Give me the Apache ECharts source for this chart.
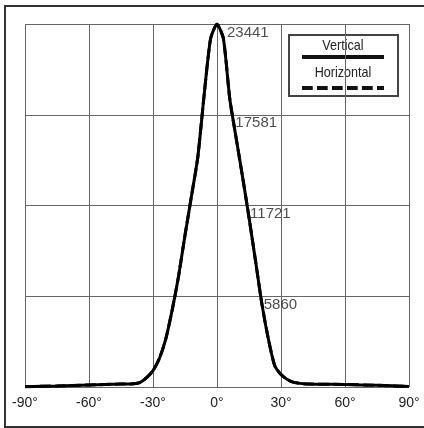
<!DOCTYPE html>
<html>
<head>
<meta charset="utf-8">
<script src="https://cdn.jsdelivr.net/npm/echarts@6/dist/echarts.min.js"></script>
<style>
  html, body { margin: 0; padding: 0; background: #fff; }
  #chart { width: 424px; height: 428px; }
</style>
</head>
<body>
<div id="chart"></div>
<script>
// Beam profile: intensity versus angle
const angles = [-90, -75, -60, -45, -39, -36, -33, -30, -27, -24, -21, -18, -15, -12, -9, -6, -3, 0,
                3, 6, 9, 12, 15, 18, 21, 24, 27, 30, 33, 36, 42, 60, 75, 90];
const verticalValues = [20, 70, 130, 190, 210, 300, 600, 1060, 1840, 3110, 4980, 7170, 9800, 12300, 14840, 18900, 22500, 23441,
                        22500, 18600, 16050, 13550, 10950, 8200, 5400, 3150, 1400, 800, 480, 300, 200, 160, 110, 30];
const horizontalValues = [20, 70, 130, 190, 210, 300, 600, 1060, 1840, 3110, 4980, 7170, 9800, 12300, 14840, 18900, 22500, 23441,
                          22500, 18600, 16050, 13550, 10950, 8200, 5400, 3150, 1400, 800, 480, 300, 200, 160, 110, 30];
const xTicks = [-90, -60, -30, 0, 30, 60, 90];
const peakValue = 23441;
const levelCount = 4;
const seriesNames = ['Vertical', 'Horizontal'];

const FONT = '"Liberation Sans", Arial, sans-serif';
const yInterval = peakValue / levelCount;

// Levels along the y axis that get a value tag on the right flank of the curve
const levels = [];
for (let i = 1; i <= levelCount; i++) levels.push(yInterval * i);

// Angle where the right flank of the curve crosses a given level
function rightCrossing(level) {
  const start = angles.indexOf(0);
  for (let i = start; i < angles.length - 1; i++) {
    const a = verticalValues[i], b = verticalValues[i + 1];
    if (a >= level && b <= level) {
      if (a === b) return angles[i];
      return angles[i] + (a - level) / (a - b) * (angles[i + 1] - angles[i]);
    }
  }
  return 0;
}

const tagData = levels.map(function (lv) {
  return {
    value: [rightCrossing(lv), lv],
    label: { offset: [lv >= peakValue ? 10 : 3, 1] }
  };
});

const chart = echarts.init(document.getElementById('chart'), null, { renderer: 'canvas' });

const toPairs = (vals) => angles.map((a, i) => [a, vals[i]]);

// condensed-looking legend text
function legendText(label, y) {
  return {
    type: 'text',
    x: 343, y: y,
    scaleX: 0.84,
    style: { x: 0, y: 0, text: label, align: 'center', verticalAlign: 'middle',
             fill: '#222', font: '15px ' + FONT }
  };
}

chart.setOption({
  animation: false,
  backgroundColor: '#fff',
  grid: { left: 25, right: 15, top: 24, bottom: 41, containLabel: false },
  xAxis: {
    type: 'value',
    min: -90, max: 90, interval: 30,
    axisLine: { show: false },
    axisTick: { show: false },
    splitLine: { show: true, lineStyle: { color: '#666', width: 1 } },
    axisLabel: {
      margin: 9,
      color: '#222',
      fontFamily: FONT,
      fontSize: 14,
      formatter: function (v) { return xTicks.indexOf(v) >= 0 ? v + '\u00b0' : ''; }
    }
  },
  yAxis: {
    type: 'value',
    min: 0, max: peakValue, interval: yInterval,
    axisLine: { show: false },
    axisTick: { show: false },
    axisLabel: { show: false },
    splitLine: { show: true, lineStyle: { color: '#666', width: 1 } }
  },
  series: [
    {
      name: seriesNames[1],
      type: 'line',
      data: toPairs(horizontalValues),
      symbol: 'none',
      smooth: 0.2,
      z: 3,
      lineStyle: { color: '#000', width: 3, type: [10.7, 4.3] }
    },
    {
      name: seriesNames[0],
      type: 'line',
      data: toPairs(verticalValues),
      symbol: 'none',
      smooth: 0.2,
      z: 4,
      lineStyle: { color: '#000', width: 3 }
    },
    {
      type: 'scatter',
      data: tagData,
      symbolSize: 0,
      z: 5,
      label: {
        show: true,
        position: 'inside',
        align: 'left',
        verticalAlign: 'top',
        color: '#222',
        fontFamily: FONT,
        fontSize: 15,
        formatter: function (p) { return String(Math.round(p.value[1])); }
      }
    }
  ],
  graphic: [
    // outer frame
    {
      type: 'rect', z: 100, silent: true,
      shape: { x: 5, y: 6, width: 440, height: 421 },
      style: { fill: null, stroke: '#333', lineWidth: 2 }
    },
    // legend box
    {
      type: 'group', z: 100, silent: true,
      children: [
        {
          type: 'rect',
          shape: { x: 289, y: 35, width: 109, height: 61 },
          style: { fill: '#fff', stroke: '#444', lineWidth: 2 }
        },
        legendText(seriesNames[0], 46),
        {
          type: 'line',
          shape: { x1: 302, y1: 57, x2: 384, y2: 57 },
          style: { stroke: '#111', lineWidth: 4 }
        },
        legendText(seriesNames[1], 73),
        {
          type: 'line',
          shape: { x1: 302, y1: 88, x2: 384, y2: 88 },
          style: { stroke: '#111', lineWidth: 4, lineDash: [10.7, 4.3] }
        }
      ]
    }
  ]
});
</script>
</body>
</html>
